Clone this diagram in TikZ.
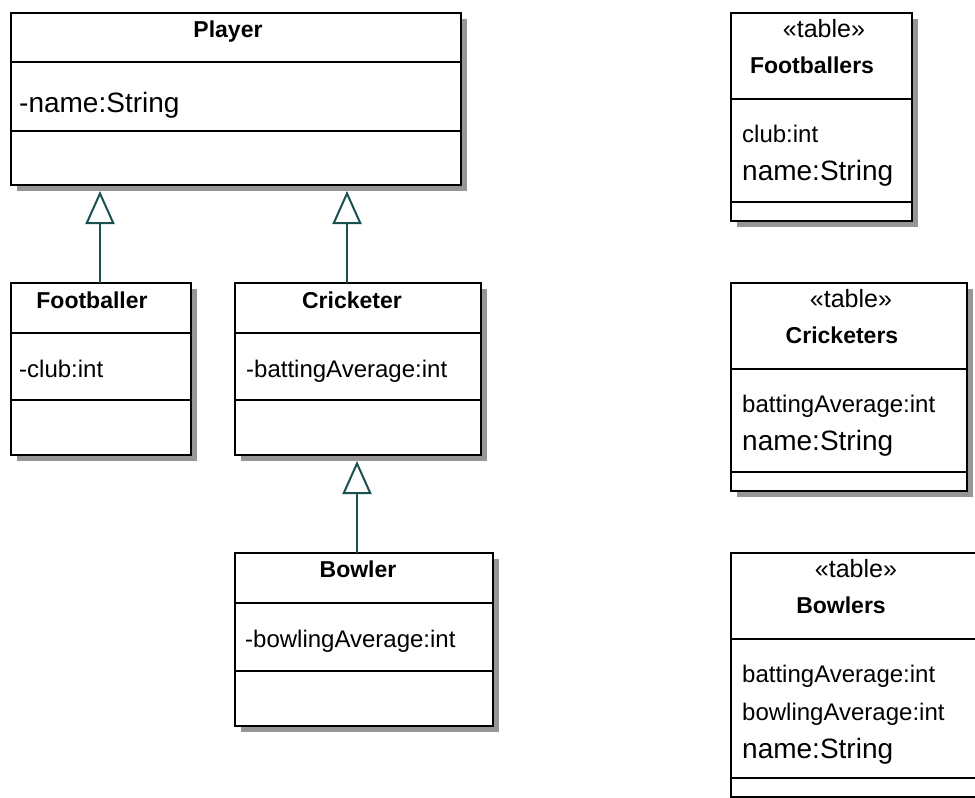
\documentclass[tikz,border=0pt]{standalone}
\usepackage{fontspec}
\setmainfont{Liberation Sans}
\usetikzlibrary{arrows.meta,shadows}

\definecolor{linkcol}{RGB}{25,80,80}
\definecolor{shadowcol}{RGB}{150,150,150}

\tikzset{
  cls/.style={draw=black, line width=2pt, fill=white, inner sep=0pt, outer sep=0pt,
    anchor=north west,
    drop shadow={shadow xshift=6pt, shadow yshift=-6pt, fill=shadowcol, opacity=1}},
  sep/.style={draw=black, line width=1.6pt},
  cname/.style={font=\bfseries\fontsize{23}{26}\selectfont, inner sep=0pt, anchor=base},
  stereo/.style={font=\fontsize{25}{28}\selectfont, inner sep=0pt, anchor=base},
  attr/.style={font=\fontsize{24}{28}\selectfont, inner sep=0pt, anchor=base west},
  bigattr/.style={font=\fontsize{28}{32}\selectfont, inner sep=0pt, anchor=base west},
  gen/.style={draw=linkcol, line width=2pt,
    -{Triangle[open, length=33pt, width=29pt, fill=white]}}
}

\begin{document}
\begin{tikzpicture}[x=1pt, y=-1pt]
  \fill[white] (0,0) rectangle (975,798);
  \clip (0,0) rectangle (975,798);

  % ---------- class diagram ----------
  \node[cls, minimum width=450pt, minimum height=172pt] (player) at (11,13) {};
  \draw[sep] (player.west |- 0,62) -- (player.east |- 0,62);
  \draw[sep] (player.west |- 0,131) -- (player.east |- 0,131);
  \node[cname] (playerT) at (228,37) {Player};
  \node[bigattr] (playerA) at (19,112) {-name:String};

  \node[cls, minimum width=180pt, minimum height=172pt] (footballer) at (11,283) {};
  \draw[sep] (footballer.west |- 0,333) -- (footballer.east |- 0,333);
  \draw[sep] (footballer.west |- 0,400) -- (footballer.east |- 0,400);
  \node[cname] (footballerT) at (92,308) {Footballer};
  \node[attr] (footballerA) at (19,377) {-club:int};

  \node[cls, minimum width=246pt, minimum height=172pt] (cricketer) at (235,283) {};
  \draw[sep] (cricketer.west |- 0,333) -- (cricketer.east |- 0,333);
  \draw[sep] (cricketer.west |- 0,400) -- (cricketer.east |- 0,400);
  \node[cname] (cricketerT) at (352,308) {Cricketer};
  \node[attr] (cricketerA) at (246,377) {-battingAverage:int};

  \node[cls, minimum width=258pt, minimum height=173pt] (bowler) at (235,553) {};
  \draw[sep] (bowler.west |- 0,603) -- (bowler.east |- 0,603);
  \draw[sep] (bowler.west |- 0,671) -- (bowler.east |- 0,671);
  \node[cname] (bowlerT) at (358,577) {Bowler};
  \node[attr] (bowlerA) at (245,647) {-bowlingAverage:int};

  % generalisations
  \coordinate (fbTop) at ([xshift=89pt]footballer.north west);
  \coordinate (crTop) at ([xshift=112pt]cricketer.north west);
  \coordinate (bwTop) at ([xshift=122pt]bowler.north west);
  \draw[gen, shorten >=6pt] (fbTop) -- (fbTop |- player.south);
  \draw[gen, shorten >=6pt] (crTop) -- (crTop |- player.south);
  \draw[gen, shorten >=6pt] (bwTop) -- (bwTop |- cricketer.south);

  % ---------- tables ----------
  \node[cls, minimum width=181pt, minimum height=208pt] (tFootballers) at (731,13) {};
  \draw[sep] (tFootballers.west |- 0,99) -- (tFootballers.east |- 0,99);
  \draw[sep] (tFootballers.west |- 0,202) -- (tFootballers.east |- 0,202);
  \node[stereo] (tFootballersS) at (824,37) {«table»};
  \node[cname] (tFootballersT) at (812,73) {Footballers};
  \node[attr] (tFootballersA) at (742,142) {club:int};
  \node[bigattr] (tFootballersB) at (742,180) {name:String};

  \node[cls, minimum width=236pt, minimum height=208pt] (tCricketers) at (731,283) {};
  \draw[sep] (tCricketers.west |- 0,369) -- (tCricketers.east |- 0,369);
  \draw[sep] (tCricketers.west |- 0,472) -- (tCricketers.east |- 0,472);
  \node[stereo] (tCricketersS) at (851,307) {«table»};
  \node[cname] (tCricketersT) at (842,343) {Cricketers};
  \node[attr] (tCricketersA) at (742,412) {battingAverage:int};
  \node[bigattr] (tCricketersB) at (742,450) {name:String};

  \node[cls, minimum width=280pt, minimum height=244pt] (tBowlers) at (731,553) {};
  \draw[sep] (tBowlers.west |- 0,639) -- (tBowlers.east |- 0,639);
  \draw[sep] (tBowlers.west |- 0,778) -- (tBowlers.east |- 0,778);
  \node[stereo] (tBowlersS) at (856,577) {«table»};
  \node[cname] (tBowlersT) at (841,613) {Bowlers};
  \node[attr] (tBowlersA) at (742,682) {battingAverage:int};
  \node[attr] (tBowlersB) at (742,720) {bowlingAverage:int};
  \node[bigattr] (tBowlersC) at (742,758) {name:String};
\end{tikzpicture}
\end{document}
